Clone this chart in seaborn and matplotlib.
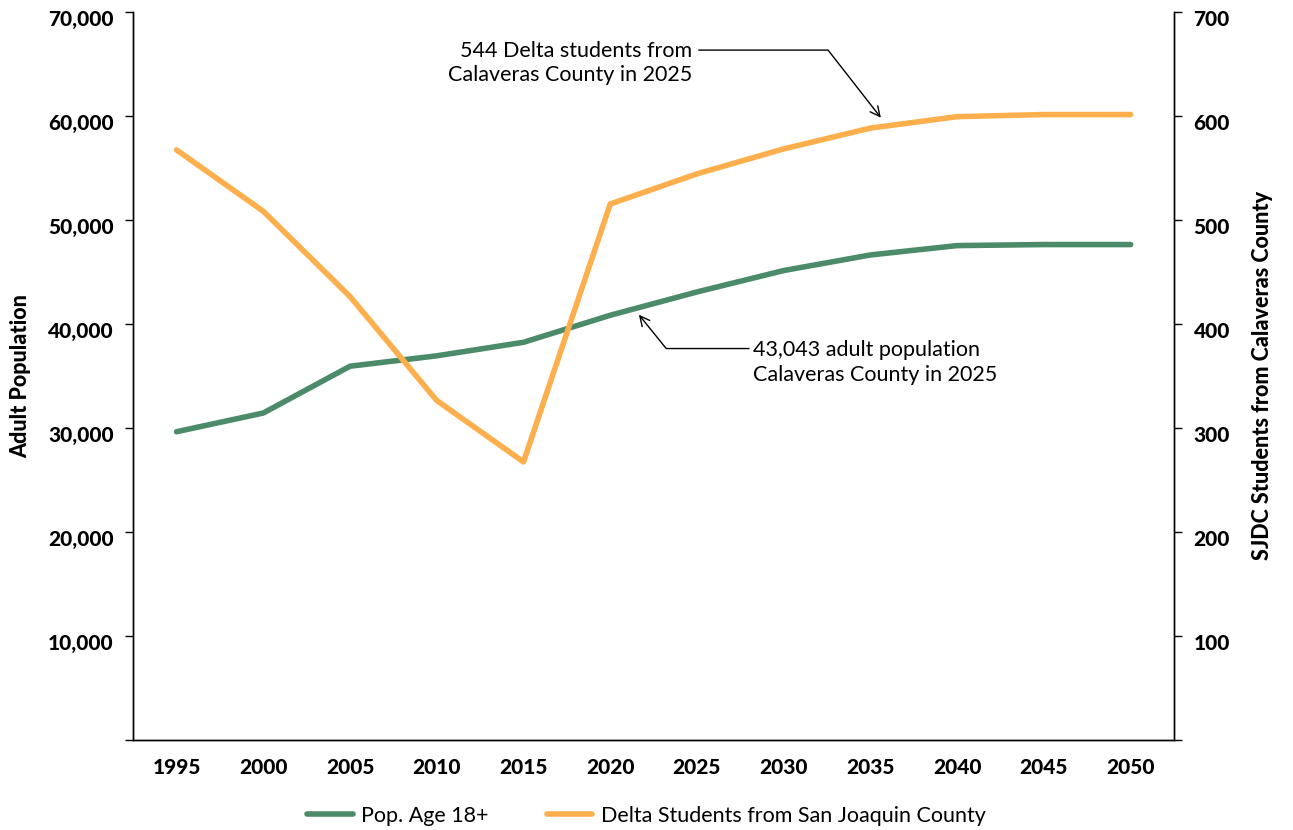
import numpy as np
import pandas as pd
import matplotlib
matplotlib.use("Agg")
import matplotlib.pyplot as plt
from matplotlib.ticker import FixedLocator, FuncFormatter
import matplotlib.transforms as mtransforms
import seaborn as sns

years = ["1995", "2000", "2005", "2010", "2015", "2020",
         "2025", "2030", "2035", "2040", "2045", "2050"]
adult_pop = [29600, 31400, 35900, 36900, 38200, 40800,
             43043, 45100, 46600, 47500, 47600, 47600]
delta_students = [567, 508, 426, 326, 267, 515,
                  544, 568, 588, 599, 601, 601]

GREEN = "#4b8b69"
ORANGE = "#fcaf4c"
HEAVY = "black"  # font weight for ticks / axis titles

sns.set_style("white")
plt.rcParams["font.family"] = ["Lato", "DejaVu Sans"]
plt.rcParams.update({"text.color": "black", "axes.labelcolor": "black",
                     "xtick.color": "black", "ytick.color": "black"})


def main():
    df = pd.DataFrame({"year": years, "pop": adult_pop, "students": delta_students})

    fig = plt.figure(figsize=(12.93, 8.30), dpi=100)
    ax = fig.add_axes([0.103, 0.109, 0.805, 0.877])
    ax2 = ax.twinx()

    sns.lineplot(df, x="year", y="pop", ax=ax, color=GREEN, linewidth=4,
                 solid_capstyle="round", label="Pop. Age 18+", legend=False)
    sns.lineplot(df, x="year", y="students", ax=ax2, color=ORANGE, linewidth=4,
                 solid_capstyle="round", label="Delta Students from San Joaquin County",
                 legend=False)

    n = len(years)
    ax.set_xlim(-0.5, n - 0.5)
    ax.set_ylim(0, 70000)
    ax2.set_ylim(0, 700)

    # x: labels at category centres, tick marks at category boundaries
    ax.set_xticks(range(n))
    ax.set_xticklabels(years, fontsize=15, fontweight=HEAVY)
    ax.xaxis.set_minor_locator(FixedLocator(np.arange(-0.5, n, 1)))
    ax.tick_params(axis="x", which="major", length=0, pad=13)
    ax.tick_params(axis="x", which="minor", length=7, width=1, color="black", direction="out")

    ax.set_yticks(range(0, 70001, 10000))
    ax.yaxis.set_major_formatter(FuncFormatter(lambda v, p: "" if v == 0 else f"{int(v):,}"))
    ax.tick_params(axis="y", length=6, width=1, color="black", direction="out",
                   labelsize=15, pad=8)
    for lbl in ax.get_yticklabels():
        lbl.set_fontweight(HEAVY)

    ax2.set_yticks(range(0, 701, 100))
    ax2.yaxis.set_major_formatter(FuncFormatter(lambda v, p: "" if v == 0 else f"{int(v)}"))
    ax2.tick_params(axis="y", length=6, width=1, color="black", direction="out",
                    labelsize=15, pad=8)
    for lbl in ax2.get_yticklabels():
        lbl.set_fontweight(HEAVY)

    # excel-style: tick labels sit slightly below their ticks
    off = mtransforms.ScaledTranslation(0, -6 / 100, fig.dpi_scale_trans)
    for a in (ax, ax2):
        for lbl in a.get_yticklabels():
            lbl.set_transform(lbl.get_transform() + off)

    ax.set_xlabel("")
    ax.set_ylabel("Adult Population", fontsize=15.5, fontweight=HEAVY, labelpad=12)
    ax2.set_ylabel("SJDC Students from Calaveras County", fontsize=15.5,
                   fontweight=HEAVY, labelpad=16)

    for a in (ax, ax2):
        a.spines["top"].set_visible(False)
        for side in ("left", "right", "bottom"):
            a.spines[side].set_color("black")
            a.spines[side].set_linewidth(1)
    ax.grid(False)
    ax2.grid(False)

    # annotations
    arrow = dict(arrowstyle="->,head_length=0.7,head_width=0.35", color="black", lw=1,
                 shrinkA=0, shrinkB=0)
    ax2.text(5.94, 663, "544 Delta students from\nCalaveras County in 2025",
             ha="right", va="center", fontsize=15.5, linespacing=1.3,
             transform=mtransforms.offset_copy(ax2.transData, fig=fig, y=-13, units="dots"))
    ax2.annotate("", xy=(8.12, 598), xytext=(6.02, 663),
                 arrowprops=dict(connectionstyle="angle,angleA=0,angleB=128,rad=0", **arrow))

    ax.text(6.65, 37600, "43,043 adult population\nCalaveras County in 2025",
            ha="left", va="center", fontsize=15.5, linespacing=1.3,
            transform=mtransforms.offset_copy(ax.transData, fig=fig, y=-14, units="dots"))
    ax.annotate("", xy=(5.33, 40850), xytext=(6.6, 37600),
                arrowprops=dict(connectionstyle="angle,angleA=0,angleB=-51,rad=0", **arrow))

    h1, l1 = ax.get_legend_handles_labels()
    h2, l2 = ax2.get_legend_handles_labels()
    fig.legend(h1 + h2, l1 + l2, loc="lower center", bbox_to_anchor=(0.5, -0.018),
               ncol=2, frameon=False, fontsize=15.5, handlelength=2.1,
               columnspacing=2.7, handletextpad=0.4)

    fig.savefig("out.png", dpi=100)


if __name__ == "__main__":
    main()
